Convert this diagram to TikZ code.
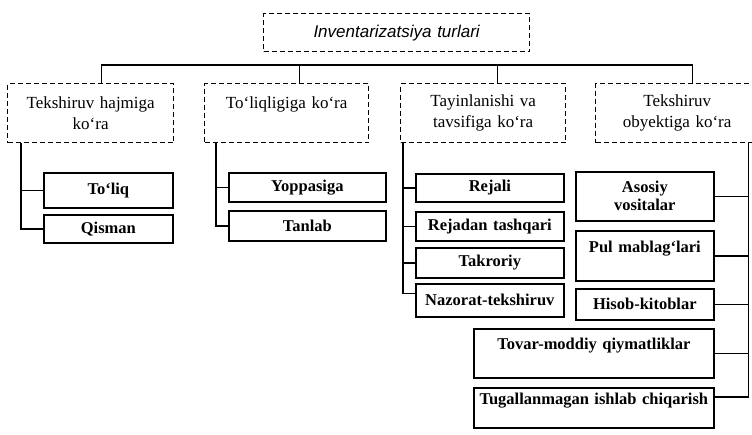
\documentclass[tikz,border=0pt]{standalone}
\usepackage{fontspec}
\setmainfont{Liberation Serif}
\newfontfamily\titlefont{Liberation Sans}
\usetikzlibrary{positioning}

\tikzset{
	catbox/.style={draw, line width=1.3pt, dash pattern=on 5pt off 3pt, anchor=north west, inner xsep=0pt, inner ysep=0pt, align=center, font=\fontsize{17}{21}\selectfont},
	itembox/.style={draw, line width=1.7pt, anchor=north west, inner xsep=0pt, inner ysep=0pt, align=center, font=\bfseries\fontsize{16.5}{19}\selectfont},
	boxwh/.style 2 args={text width=#1pt, minimum height=#2pt},
	link/.style={line width=1.6pt}
}

\begin{document}
\begin{tikzpicture}[x=1pt, y=1pt]
			\useasboundingbox (0,0) rectangle (752,-435);
			\node[catbox, boxwh={266}{38}, font=\titlefont\itshape\fontsize{17}{20}\selectfont] (turlar) at (263,-13) {Inventarizatsiya turlari};
			\node[catbox, boxwh={166}{59}] (hajm) at (7,-83) {Tekshiruv hajmiga\\ko‘ra};
			\node[catbox, boxwh={164}{59}] (toliq) at (204,-83) {To‘liqligiga ko‘ra\\\mbox{}};
			\node[catbox, boxwh={165}{59}] (tayin) at (400,-83) {Tayinlanishi va\\tavsifiga ko‘ra};
			\node[catbox, boxwh={163}{59}] (obyekt) at (595,-83) {Tekshiruv\\obyektiga ko‘ra};
			\node[itembox, boxwh={129}{35}] (tol) at (43,-172) {To‘liq};
			\node[itembox, boxwh={129}{28}] (qis) at (43,-214) {Qisman};
			\node[itembox, boxwh={157}{29}] (yop) at (228,-172) {Yoppasiga};
			\node[itembox, boxwh={157}{30}] (tan) at (228,-210) {Tanlab};
			\node[itembox, boxwh={148}{28}] (rej) at (415,-173) {Rejali};
			\node[itembox, boxwh={148}{29}] (rejt) at (415,-211) {Rejadan tashqari};
			\node[itembox, boxwh={148}{30}] (tak) at (415,-247) {Takroriy};
			\node[itembox, boxwh={148}{33}] (naz) at (415,-283) {Nazorat-tekshiruv};
			\node[itembox, boxwh={138}{49}, font=\bfseries\fontsize{16.5}{18}\selectfont] (aso) at (575,-171) {Asosiy\\vositalar};
			\node[itembox, boxwh={138}{50}] (pul) at (575,-230) {Pul mablag‘lari\\\mbox{}};
			\node[itembox, boxwh={138}{31}] (his) at (575,-288) {Hisob-kitoblar};
			\node[itembox, boxwh={240}{49}] (tov) at (473,-328) {Tovar-moddiy qiymatliklar\\\mbox{}};
			\node[itembox, boxwh={240}{40}] (tug) at (473,-387) {Tugallanmagan ishlab chiqarish\\\mbox{}};
			\coordinate (bus) at (0,-65);
			\coordinate (d1) at ([xshift=11pt]hajm.north);
			\coordinate (d2) at ([xshift=13pt]toliq.north);
			\coordinate (d3) at ([xshift=14.5pt]tayin.north);
			\coordinate (d4) at ([xshift=15.5pt]obyekt.north);
			\draw[link] (d1) -- (d1 |- bus) -- (d4 |- bus) -- (d4);
			\foreach \d in {d2, d3}{
				\draw[link] (\d) -- (\d |- bus);
			}
			\foreach \c in {tol, qis}{
				\draw[link] ([xshift=14pt]hajm.south west) |- (\c.west);
			}
			\foreach \c in {yop, tan}{
				\draw[link] ([xshift=12pt]toliq.south west) |- (\c.west);
			}
			\foreach \c in {rej, rejt, tak}{
				\draw[link] ([xshift=3pt]tayin.south west) |- (\c.west);
			}
			\draw[link] ([xshift=3pt]tayin.south west) |- ([yshift=7pt]naz.west);
			\foreach \c in {aso, pul, his, tov}{
				\draw[link] ([xshift=-11pt]obyekt.south east) |- (\c.east);
			}
			\draw[link] ([xshift=-11pt]obyekt.south east) |- ([yshift=11pt]tug.east);
		\end{tikzpicture}
\end{document}
